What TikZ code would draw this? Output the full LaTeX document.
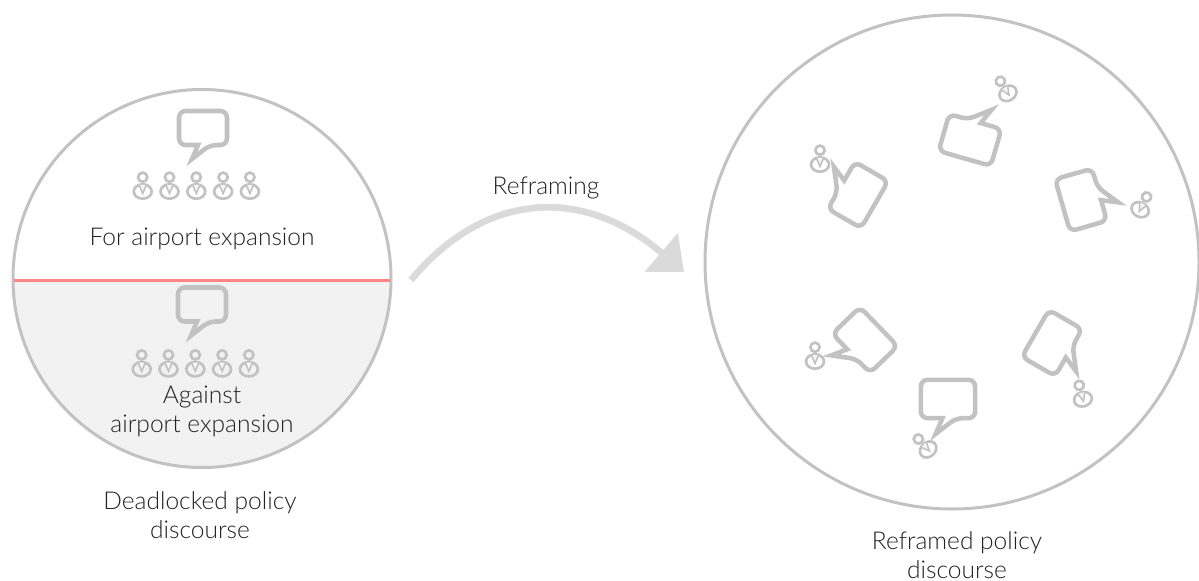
\documentclass[tikz,border=0pt]{standalone}
\usepackage{fontspec}
\setmainfont{Lato Light}
\usepackage{tikz}
\usetikzlibrary{arrows.meta, positioning}
\definecolor{ringGrey}{HTML}{C2C2C2}
\definecolor{arrowGrey}{HTML}{DADADA}
\definecolor{lowerFill}{HTML}{F2F2F2}
\definecolor{splitRed}{HTML}{FF8585}
\definecolor{textGrey}{HTML}{222222}
\tikzset{
  ring/.style={draw=ringGrey, line width=2.25pt},
  label/.style={align=center, text=textGrey, font=\fontsize{18.4}{21.75}\selectfont, inner sep=0pt},
  reframeArrow/.style={draw=arrowGrey, line width=5pt,
                       -{Triangle[length=22.5pt,width=37pt,fill=arrowGrey]}},
  bubble/.pic={
    \draw[draw=ringGrey, line width=3.4pt, rounded corners=5pt, line join=miter]
      (-24,-17) -- (24,-17) -- (24,17) -- (7,17) [sharp corners] -- (-11,31) -- (-5,17) [rounded corners=5pt] -- (-24,17) -- cycle;
  },
  person/.pic={
    \draw[draw=ringGrey, line width=2pt] (0,-6.8) circle (4.6);
    \draw[draw=ringGrey, line width=2pt] (0,7.5) ellipse (9 and 7.2);
    \draw[draw=ringGrey, line width=1.2pt, fill=ringGrey!15] (-3.6,1) -- (0,9.5) -- (3.6,1);
  },
}
\begin{document}
\begin{tikzpicture}[x=0.75pt, y=-0.75pt]
    \useasboundingbox (0,0) rectangle (1199,581);
    %% left circle
    \begin{scope}
      \clip (202,278.5) circle (189);
      \fill[lowerFill] (0,280) rectangle (400,480);
    \end{scope}
    \draw[ring] (202,278.5) circle (189);
    \coordinate (splitL) at (14,280);
    \coordinate (splitR) at (390,280);
    \draw[draw=splitRed, line width=2.25pt] (splitL) -- (splitR);
    %% right circle
    \draw[ring] (952,262) circle (247);
    %% left bubbles and people
    \pic at (203,128) {bubble};
    \pic at (202,304.5) {bubble};
    \foreach \i in {0,...,4}{
      \pic at ({142.7+26.8*\i},184) {person};
      \pic at ({141.7+26.8*\i},361.7) {person};
    }
    %% right bubbles
    \pic[rotate=-196, scale=1.13] at (970,140) {bubble};
    \pic[rotate=-120, scale=1.13] at (858,195) {bubble};
    \pic[rotate=106, scale=1.13] at (1081,200) {bubble};
    \pic[rotate=-46, scale=1.13] at (865,340) {bubble};
    \pic[rotate=60, scale=1.13] at (1052,343) {bubble};
    \pic[scale=1.13] at (948,399) {bubble};
    %% right people
    \pic[rotate=32] at (1004,87) {person};
    \pic at (820,157) {person};
    \pic[rotate=-27] at (1143.5,203) {person};
    \pic at (815,354) {person};
    \pic[rotate=15] at (1081,392) {person};
    \pic[rotate=43] at (923,444) {person};
    %% arrow
    \coordinate (reframeA) at (411,280);
    \coordinate (reframeB) at (684,272);
    \draw[reframeArrow] (reframeA) .. controls (488,188) and (586,188) .. (reframeB);
    %% labels
    \node[label] (forLbl) at (202,239) {For airport expansion};
    \node[label] (againstLbl) at (202,411) {Against\\airport expansion};
    \node[label] (deadLbl) at (200,515) {Deadlocked policy\\discourse};
    \node[label] (arrowLbl) at (546,188) {Reframing};
    \node[label] (reframedLbl) at (957,555) {Reframed policy\\discourse};
\end{tikzpicture}
\end{document}
